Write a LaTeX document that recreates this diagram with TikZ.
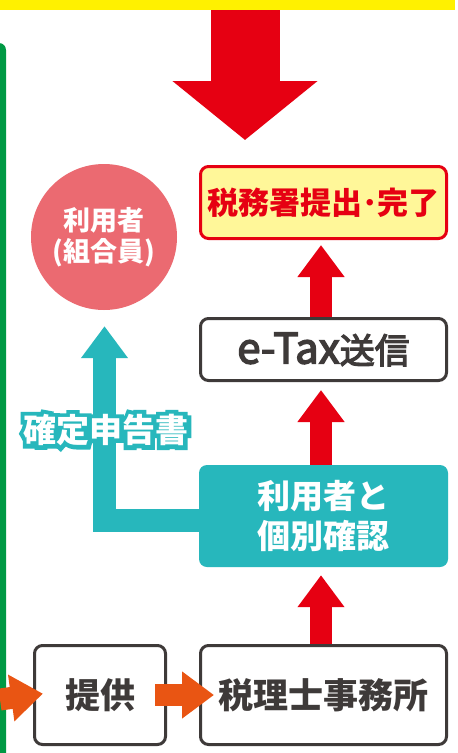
\documentclass[tikz,border=0pt]{standalone}
\usepackage{fontspec}
\newfontfamily\cjk{Noto Sans CJK JP}
\newfontfamily\cjkm[FakeBold=3.5]{Noto Sans CJK JP}
\newfontfamily\cjkhalo[FakeBold=27]{Noto Sans CJK JP Bold}
\usetikzlibrary{arrows.meta,calc,backgrounds}
\definecolor{redc}{HTML}{E60012}
\definecolor{baryellow}{HTML}{FFF100}
\definecolor{lightyellow}{HTML}{FFF799}
\definecolor{tealc}{HTML}{27B7BC}
\definecolor{pinkc}{HTML}{EB6A71}
\definecolor{darkc}{HTML}{3E3A39}
\definecolor{orangec}{HTML}{E95513}
\definecolor{greenc}{HTML}{009944}
\tikzset{
  box/.style={rectangle, rounded corners=8pt, line width=3pt, draw=darkc, fill=white,
    minimum width=246pt, inner sep=0pt, text=darkc, align=center},
  redarrow/.style={draw=redc, line width=22pt, -{Triangle[width=45pt,length=32pt]}},
  orangearrow/.style={draw=orangec, line width=22pt, -{Triangle[width=45pt,length=32pt]}},
  tealarrow/.style={draw=tealc, line width=23pt, line join=miter, -{Triangle[width=45pt,length=32pt]}},
  bigf/.style={font=\cjk\bfseries\fontsize{33}{40}\selectfont},
  labf/.style={font=\cjk\bfseries\fontsize{33}{38}\selectfont},
}
\begin{document}
\begin{tikzpicture}[x=1pt,y=-1pt]
\useasboundingbox (0,0) rectangle (458,753);
% nodes
\node[fill=baryellow, minimum width=455pt, minimum height=9.5pt, inner sep=0pt, anchor=north west] (bar) at (0,0) {};
\node[circle, fill=pinkc, minimum size=146pt, inner sep=0pt, text=white, align=center,
      font=\cjk\bfseries\fontsize{27}{31}\selectfont] (user) at (104,237) {利用者\\(組合員)};
\node[box, draw=redc, fill=lightyellow, minimum height=72pt, text=redc,
      font=\cjk\bfseries\fontsize{31}{36}\selectfont] (yb) at (323.5,202.5) {税務署提出･完了};
\node[box, minimum height=62pt] (etax) at (323.5,349.5)
      {{\cjkm\fontsize{42}{46}\selectfont e-Tax}{\cjkm\fontsize{35}{40}\selectfont 送信}};
\node[rectangle, rounded corners=8pt, fill=tealc, minimum width=249pt, minimum height=102pt,
      inner sep=0pt, text=white, align=center, bigf] (tb) at (323.5,516) {利用者と\\個別確認};
\node[box, minimum height=99pt, font=\cjk\bfseries\fontsize{35}{40}\selectfont] (sz) at (323.5,695) {税理士事務所};
\node[box, minimum width=131pt, minimum height=99pt, font=\cjk\bfseries\fontsize{35}{40}\selectfont] (tk) at (100,695) {提供};
\coordinate (dtip) at (245,140);
\coordinate (lstart) at (0,699.5);
% arrows beneath boxes
\begin{pgfonlayer}{background}
\fill[white] (0,0) rectangle (458,753);
\draw[draw=redc, line width=69pt, -{Triangle[width=142pt,length=59pt]}] (bar.south -| dtip) -- (dtip);
\draw[redarrow, shorten >=5pt] ([xshift=-2.5pt]etax.north) -- ([xshift=-2.5pt]yb.south);
\draw[redarrow, shorten >=8pt] ([xshift=-2.5pt]tb.north) -- ([xshift=-2.5pt]etax.south);
\draw[redarrow, shorten >=8pt] ([xshift=-2.5pt]sz.north) -- ([xshift=-2.5pt]tb.south);
\draw[tealarrow, shorten >=16pt] ([xshift=12pt,yshift=-4pt]tb.west) -| ([xshift=0.5pt]user.south);
\end{pgfonlayer}
% green frame edge
\begin{scope}
\clip (0,0) rectangle (458,753);
\fill[greenc, rounded corners=7pt] (-12,43) rectangle (6,770);
\end{scope}
% orange arrows on top
\draw[orangearrow, shorten >=-10pt] (lstart) -- (tk.west);
\draw[orangearrow, shorten <=-12pt, shorten >=-15pt] (tk.east) -- (sz.west);
% outlined label
\coordinate (labc) at (106,430);
\node[text=tealc, font=\cjkhalo\fontsize{33}{38}\selectfont] (labhalo) at (labc) {確定申告書};
\node[text=white, labf] (lab) at (labc) {確定申告書};
\end{tikzpicture}
\end{document}
